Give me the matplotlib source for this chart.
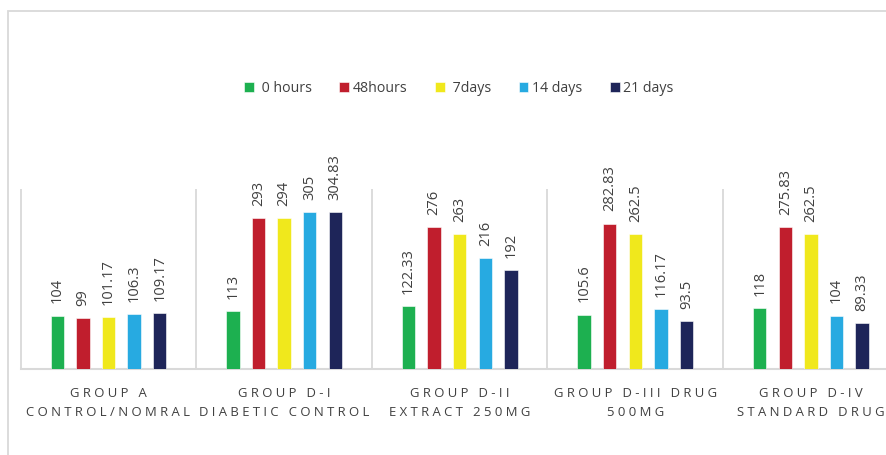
import matplotlib
matplotlib.use("Agg")
import matplotlib.pyplot as plt
import numpy as np
from matplotlib.patches import Rectangle

plt.rcParams['font.family'] = ['Open Sans', 'DejaVu Sans']

categories = [
    "GROUP A\nCONTROL/NOMRAL",
    "GROUP D-I\nDIABETIC CONTROL",
    "GROUP D-II\nEXTRACT 250MG",
    "GROUP D-III DRUG\n500MG",
    "GROUP D-IV\nSTANDARD DRUG",
]
series_names = [" 0 hours", "48hours", " 7days", "14 days", "21 days"]
values_0h = [104, 113, 122.33, 105.6, 118]
values_48h = [99, 293, 276, 282.83, 275.83]
values_7d = [101.17, 294, 263, 262.5, 262.5]
values_14d = [106.3, 305, 216, 116.17, 104]
values_21d = [109.17, 304.83, 192, 93.5, 89.33]
labels_0h = ["104", "113", "122.33", "105.6", "118"]
labels_48h = ["99", "293", "276", "282.83", "275.83"]
labels_7d = ["101.17", "294", "263", "262.5", "262.5"]
labels_14d = ["106.3", "305", "216", "116.17", "104"]
labels_21d = ["109.17", "304.83", "192", "93.5", "89.33"]

all_values = [values_0h, values_48h, values_7d, values_14d, values_21d]
all_labels = [labels_0h, labels_48h, labels_7d, labels_14d, labels_21d]
colors = ["#1DB050", "#C01E2D", "#F0E81C", "#27AAE1", "#1E2559"]

W, H = 887, 456
fig = plt.figure(figsize=(W / 100, H / 100), dpi=100)
fig.patch.set_facecolor("white")

# outer chart border
fig.patches.append(Rectangle((8 / W, -0.1), 1.2, 1 - 12 / H + 0.1,
                             transform=fig.transFigure, fill=False,
                             edgecolor="#D9D9D9", linewidth=1.3))

ax = fig.add_axes([20.7 / W, 1 - 370 / H, 878 / W, 180 / H])
ax.set_facecolor("none")

x = np.arange(len(categories))
step = 0.1458
bw = 0.077

handles = []
for k, (vals, labs, c, name) in enumerate(zip(all_values, all_labels, colors, series_names)):
    bars = ax.bar(x + (k - 2) * step, vals, width=bw, color=c, label=name,
                  edgecolor="white", linewidth=0.4, zorder=3)
    ax.bar_label(bars, labels=labs, rotation=90, padding=9.5,
                 fontsize=10.5, color="#404040")
    handles.append(bars)

ax.set_xlim(-0.5, len(categories) - 0.5)
ax.set_ylim(0, 350)

# group separators
ax.vlines(np.arange(len(categories) + 1) - 0.5, 0, 350, colors="#D9D9D9",
          linewidth=1.3, zorder=1, clip_on=False)

for s in ["top", "right", "left"]:
    ax.spines[s].set_visible(False)
ax.spines["bottom"].set_color("#D9D9D9")
ax.spines["bottom"].set_linewidth(1.5)
ax.set_yticks([])


def spaced(t):
    return "\n".join(" ".join(list(line)) for line in t.split("\n"))


ax.set_xticks(x)
ax.set_xticklabels([spaced(c) for c in categories], fontsize=9.45,
                   color="#404040", linespacing=1.64)
ax.tick_params(axis="x", length=0, pad=12)

leg = fig.legend(handles=handles, labels=series_names, loc="center",
                 bbox_to_anchor=(459 / W, 1 - 89 / H), ncol=5, frameon=False,
                 fontsize=10.2, handlelength=0.7, handleheight=0.7,
                 handletextpad=0.25, columnspacing=1.95)
for t in leg.get_texts():
    t.set_color("#404040")

fig.savefig("out.png", dpi=100, facecolor="white")
